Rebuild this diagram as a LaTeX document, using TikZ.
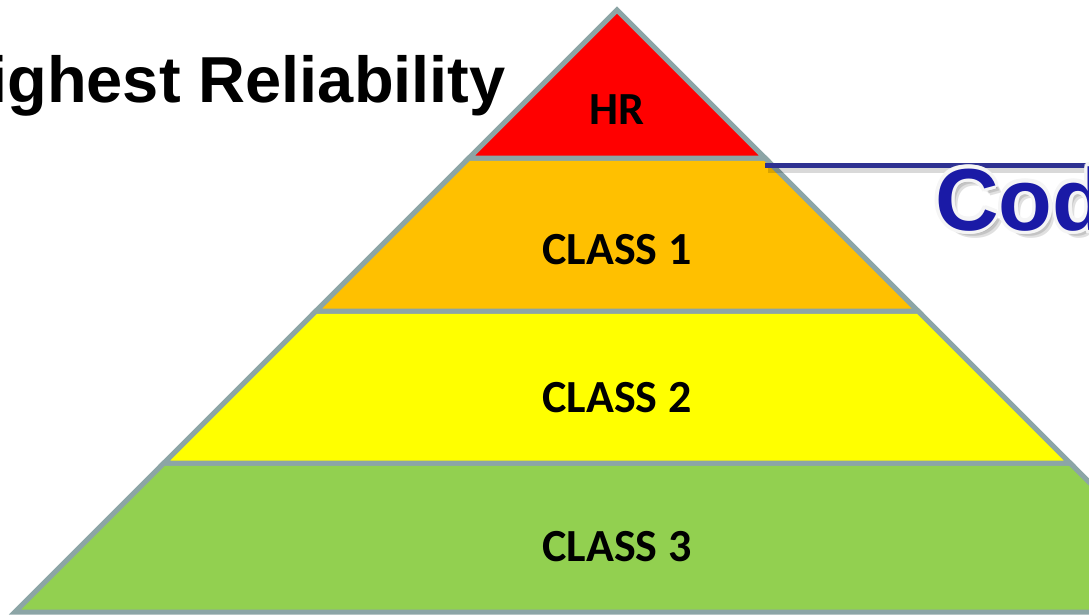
\documentclass[tikz,border=0pt]{standalone}
\usepackage{fontspec}
\setmainfont{Liberation Sans}
\newfontfamily\labelfont{Carlito}
\usepackage{xcolor}
\definecolor{edge}{HTML}{8CA5A6}
\definecolor{hrred}{HTML}{FF0000}
\definecolor{classone}{HTML}{FFC000}
\definecolor{classtwo}{HTML}{FFFF00}
\definecolor{classthree}{HTML}{92D050}
\definecolor{navy}{HTML}{2E3192}
\definecolor{codeblue}{HTML}{1A1AA6}
\tikzset{
  layer/.style = {draw=edge, line width=5pt, line join=miter, fill=#1},
  layer label/.style = {font=\labelfont\bfseries\fontsize{46}{46}\selectfont, text=black, inner sep=0pt},
  title text/.style = {font=\bfseries\fontsize{65}{65}\selectfont, text=black, inner sep=0pt},
  code text/.style = {font=\bfseries\fontsize{88}{88}\selectfont, inner sep=0pt, anchor=base west}
}

\begin{document}
\begin{tikzpicture}[x=1pt,y=-1pt]
  \useasboundingbox (0,0) rectangle (1089,614);
  \clip (0,0) rectangle (1089,614);
  \fill[white] (0,0) rectangle (1089,614);

  % layers of the pyramid, from the base up
  \draw[layer=classthree] (15,612) -- (1219,612) -- (1070,463) -- (164,463) -- cycle;
  \draw[layer=classtwo] (164,463) -- (1070,463) -- (918,311) -- (316,311) -- cycle;
  \draw[layer=classone] (316,311) -- (918,311) -- (765,158) -- (469,158) -- cycle;
  \draw[layer=hrred] (469,158) -- (765,158) -- (617,10) -- cycle;

  \node[layer label] (hr) at (617,110) {HR};
  \node[layer label] (c1) at (617,250) {CLASS 1};
  \node[layer label] (c2) at (617,398) {CLASS 2};
  \node[layer label] (c3) at (617,547) {CLASS 3};

  \node[title text, anchor=base east] (title) at (506,102) {Highest Reliability};

  % rule leading off to the right, with its shadow
  \coordinate (ruleL) at (765,165);
  \coordinate (ruleR) at (1089,165);
  \draw[black, opacity=0.15, line width=5pt] ([shift={(3,5)}]ruleL) -- ([shift={(3,5)}]ruleR);
  \draw[navy, line width=5pt] (ruleL) -- (ruleR);

  % shadowed, outlined heading
  \foreach \d in {2,4,6}
    \node[code text, text=black, opacity=0.12] at (935+\d,231+\d) {Cod};
  \foreach \a in {0,30,...,330}
    \path (935,230) ++(\a:3.5) node[code text, text=white!92!gray] {Cod};
  \node[code text, text=codeblue] (code) at (935,230) {Cod};
\end{tikzpicture}
\end{document}
